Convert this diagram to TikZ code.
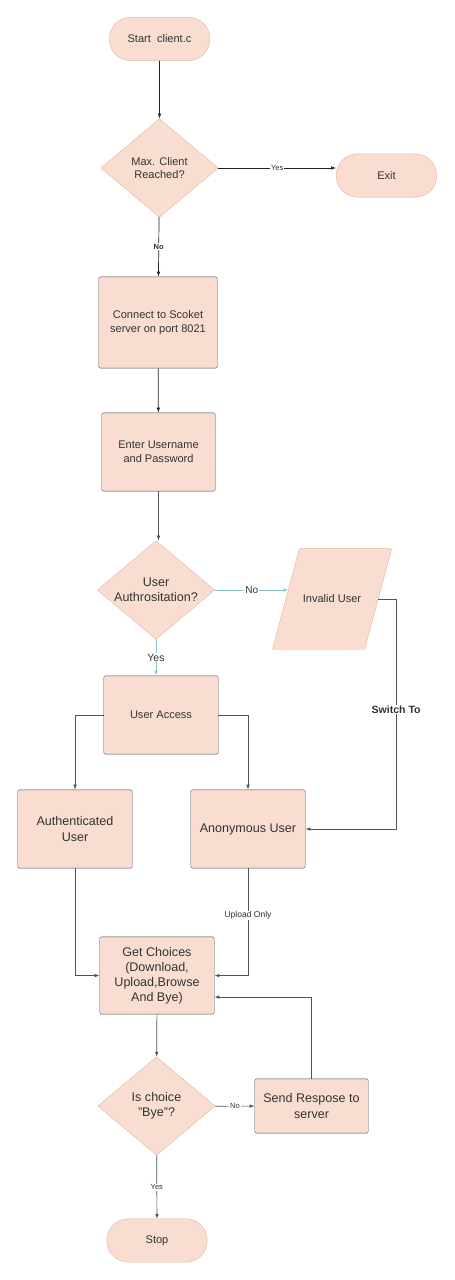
\documentclass[tikz,border=0pt]{standalone}
\usepackage{fontspec}
\setmainfont{Liberation Sans}
\usetikzlibrary{shapes.geometric,arrows.meta,backgrounds,calc}
\definecolor{peach}{HTML}{F9DDD0}
\definecolor{peachline}{HTML}{E3B5A2}
\definecolor{boxline}{HTML}{4A4A4A}
\definecolor{darkwire}{HTML}{222222}
\definecolor{greywire}{HTML}{4B535C}
\definecolor{authwire}{HTML}{8CC7C7}
\definecolor{ink}{HTML}{333333}

\begin{document}
\begin{tikzpicture}[scale=0.35]
\tikzstyle{every node}+=[inner sep=0pt, text=ink, align=center, font=\fontsize{11}{13.5}\selectfont]
\tikzstyle{term}=[draw=peachline, fill=peach, rectangle, rounded corners=21pt, minimum width=100pt, minimum height=43pt]
\tikzstyle{decision}=[draw=peachline, fill=peach, diamond, aspect=1.2, inner sep=-2pt, minimum width=117pt, minimum height=98pt]
\tikzstyle{proc}=[draw=boxline, fill=peach, rectangle, rounded corners=1.5pt, minimum width=114pt, minimum height=78pt]
\tikzstyle{io}=[rectangle, minimum width=91.5pt, minimum height=100pt]
\tikzstyle{big}=[font=\fontsize{12.5}{15}\selectfont]
\tikzstyle{wire}=[draw=greywire, line width=0.7pt, -{Latex[length=5pt,width=3.5pt]}]
\tikzstyle{tag}=[fill=white, inner sep=0.8pt, text=ink, font=\fontsize{7.5}{9}\selectfont]
\useasboundingbox (0,0) rectangle (45.5,-128);
\node [term] (start) at (15.95,-3.9) {Start\ \ client.c};
\node [decision] (maxc) at (15.95,-16.8) {Max. Client\\Reached?};
\node [term] (exit) at (38.65,-17.55) {Exit};
\node [proc, minimum width=118pt, minimum height=91pt] (connect) at (15.8,-32.25) {Connect to Scoket\\server on port 8021};
\node [proc, minimum width=113pt] (enter) at (15.85,-45.2) {Enter Username\\and Password};
\node [decision, big] (auth) at (15.6,-59.0) {User\\Authrositation?};
\node [io] (invalid) at (33.2,-59.9) {Invalid User};
\begin{pgfonlayer}{background}
\filldraw [draw=peachline, fill=peach, rounded corners=1pt] ($(invalid.north west)+(1.35,0)$) -- ($(invalid.north east)+(1.35,0)$) -- ($(invalid.south east)+(-1.35,0)$) -- ($(invalid.south west)+(-1.35,0)$) -- cycle;
\end{pgfonlayer}
\node [proc] (access) at (16.1,-71.5) {User Access};
\node [proc, big] (known) at (7.5,-82.9) {Authenticated\\User};
\node [proc, big] (anon) at (24.8,-82.9) {Anonymous User};
\node [proc, big, minimum height=77pt] (choices) at (15.7,-97.55) {Get Choices\\(Download,\\Upload,Browse\\And Bye)};
\node [decision, big] (bye) at (15.65,-110.6) {Is choice\\"Bye"?};
\node [proc, big, minimum width=113pt, minimum height=54pt] (send) at (31.15,-110.6) {Send Respose to\\server};
\node [term] (stop) at (15.7,-124.05) {Stop};
\draw [wire, draw=darkwire] (start) -- (maxc);
\draw [wire, draw=darkwire] (maxc.east) -- node [tag] {Yes} (maxc.east -| exit.west);
\draw [wire, draw=darkwire] (maxc) -- node [tag, font=\fontsize{7.5}{9}\selectfont\bfseries] {No} (connect);
\draw [wire, draw=darkwire] (connect) -- (enter);
\draw [wire] (enter.south) -- (enter.south |- auth.north);
\draw [wire, draw=authwire] (auth.east) -- node [tag, font=\fontsize{10}{12}\selectfont] {No} ($(auth.east -| invalid.west)+(0.25,0)$);
\draw [wire, draw=authwire] (auth.south) -- node [tag, font=\fontsize{10.5}{12}\selectfont] {Yes} (auth.south |- access.north);
\draw [wire] (access.west) -| (known.north);
\draw [wire] (access.east) -| (anon.north);
\draw [wire] (invalid.east) -- ++(1.8,0) |- node [pos=0.24, tag, font=\fontsize{10.5}{12}\selectfont\bfseries] {Switch To} (anon.east);
\draw [wire] (known.south) |- (choices.west);
\draw [wire] (anon.south) |- node [pos=0.22, tag, font=\fontsize{8.5}{10}\selectfont] {Upload Only} (choices.east);
\draw [wire] (choices) -- (bye);
\draw [wire] (bye) -- node [tag] {No} (send);
\draw [wire] (send.north) |- ($(choices.east)+(0,-2.15)$);
\draw [wire] (bye) -- node [tag] {Yes} (stop);
\end{tikzpicture}
\end{document}
